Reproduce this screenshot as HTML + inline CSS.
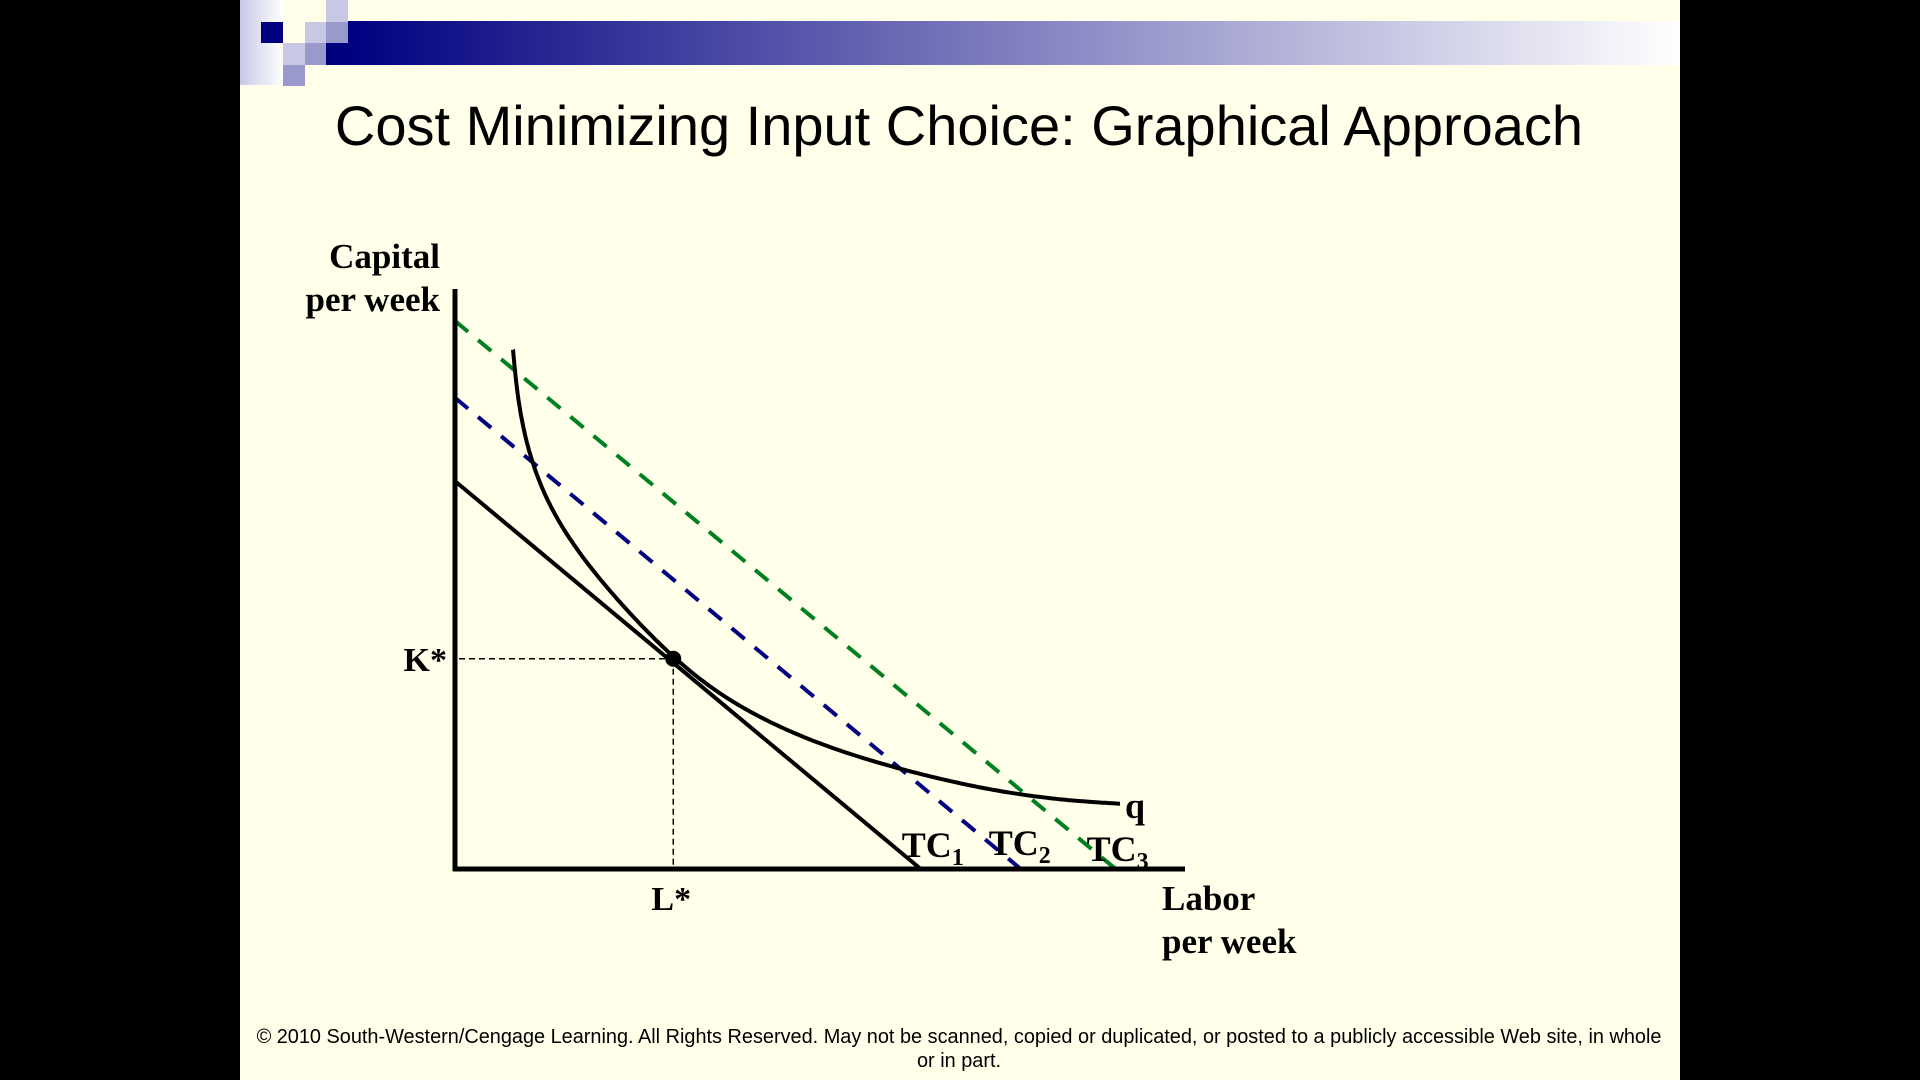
<!DOCTYPE html>
<html><head><meta charset="utf-8"><style>
html,body{margin:0;padding:0;background:#000;}
#wrap{position:relative;width:1920px;height:1080px;background:#000;overflow:hidden;}
#slide{position:absolute;left:240px;top:0;width:1440px;height:1080px;background:#FFFFEA;}
svg text{font-family:"Liberation Serif",serif;font-weight:bold;fill:#000;}
</style></head><body>
<div id="wrap">
<div id="slide"></div>
<svg id="chart" width="1920" height="1080" style="position:absolute;left:0;top:0">
<defs>
<linearGradient id="band" x1="0" x2="1" y1="0" y2="0"><stop offset="0" stop-color="#000080"/><stop offset="1" stop-color="#ffffff"/></linearGradient>
<linearGradient id="lb" x1="0" x2="1" y1="0" y2="0"><stop offset="0" stop-color="#c8c8e6"/><stop offset="1" stop-color="#ffffff"/></linearGradient>
</defs>
<g>
<rect x="240" y="0" width="43" height="85" fill="url(#lb)"/>
<rect x="283" y="0" width="43" height="22" fill="#FFFFEA"/>
<rect x="348" y="21" width="1332" height="44" fill="url(#band)"/>
<rect x="261" y="22" width="22" height="21" fill="#000080"/>
<rect x="326" y="0" width="22" height="22" fill="#c8c8e4"/>
<rect x="305" y="22" width="21" height="21" fill="#c8c8e4"/>
<rect x="326" y="22" width="22" height="21" fill="#9999cc"/>
<rect x="283" y="43" width="22" height="22" fill="#c8c8e4"/>
<rect x="305" y="43" width="21" height="22" fill="#9999cc"/>
<rect x="326" y="43" width="22" height="22" fill="#000080"/>
<rect x="283" y="65" width="22" height="21" fill="#9999cc"/>
</g>
<text x="959" y="145" text-anchor="middle" style="font-family:'Liberation Sans',sans-serif;font-weight:normal;font-size:56px">Cost Minimizing Input Choice: Graphical Approach</text>
<g id="plot"></g>
<text x="440" y="268" text-anchor="end" font-size="35">Capital</text>
<text x="440" y="311" text-anchor="end" font-size="35">per week</text>
<text x="1162" y="910" font-size="35">Labor</text>
<text x="1162" y="953" font-size="35">per week</text>
<text x="959" y="1043" text-anchor="middle" style="font-family:'Liberation Sans',sans-serif;font-weight:normal;font-size:19.9px">© 2010 South-Western/Cengage Learning. All Rights Reserved. May not be scanned, copied or duplicated, or posted to a publicly accessible Web site, in whole</text>
<text x="959" y="1067" text-anchor="middle" style="font-family:'Liberation Sans',sans-serif;font-weight:normal;font-size:19.9px">or in part.</text>
</svg>
</div>
<script>
// data (L = labor, K = capital)
const costLineNames = ["TC1","TC2","TC3"];
const costKIntercepts = [53.5, 65, 75.6];
const costLIntercepts = [63.8, 77.5, 90.5];
const costColors = ["#000000","#000080","#008020"];
const isoL = [7.95, 8.6, 10.0, 12.5, 16.7, 22.6, 29.9, 37.3, 46.3, 55.5, 64.7, 73.7, 82.9, 91.1];
const isoK = [71.6, 64.5, 57.6, 50.7, 43.8, 36.6, 29.0, 23.2, 18.6, 15.3, 12.8, 10.8, 9.5, 9.0];
const optimumL = [29.9];
const optimumK = [29.0];

const X0=455, X1=1185, Y0=869, Y1=289, LMAX=100, KMAX=80;
function sx(l){return X0+(X1-X0)*l/LMAX;}
function sy(k){return Y0-(Y0-Y1)*k/KMAX;}
const NS="http://www.w3.org/2000/svg";
const g=document.getElementById('plot');
function mk(t,a){const e=document.createElementNS(NS,t);for(const k in a)e.setAttribute(k,a[k]);g.appendChild(e);return e;}

costLineNames.forEach((n,i)=>{
  const e=mk('line',{x1:sx(0),y1:sy(costKIntercepts[i]),x2:sx(costLIntercepts[i]),y2:sy(0),stroke:costColors[i],'stroke-width':4});
  if(i>0)e.setAttribute('stroke-dasharray','17 13');
  
  
});
// isoquant: clamped uniform cubic B-spline through data control points (smooth)
let C=isoL.map((l,i)=>[sx(l),sy(isoK[i])]);
C=[C[0],C[0]].concat(C).concat([C[C.length-1],C[C.length-1]]);
let pts=[];
for(let i=0;i<C.length-3;i++){
  const p0=C[i],p1=C[i+1],p2=C[i+2],p3=C[i+3];
  for(let s=0;s<=20;s++){const t=s/20,t2=t*t,t3=t2*t;
    const b0=(1-t)**3/6,b1=(3*t3-6*t2+4)/6,b2=(-3*t3+3*t2+3*t+1)/6,b3=t3/6;
    pts.push([b0*p0[0]+b1*p1[0]+b2*p2[0]+b3*p3[0], b0*p0[1]+b1*p1[1]+b2*p2[1]+b3*p3[1]]);}
}
const iso=mk('polyline',{points:pts.map(p=>p[0].toFixed(1)+','+p[1].toFixed(1)).join(' '),fill:'none',stroke:'#000','stroke-width':4,'stroke-linejoin':'round'});


const ox=sx(optimumL[0]), oy=sy(optimumK[0]);
const gh=mk('line',{x1:sx(0)+4,y1:oy,x2:ox,y2:oy,stroke:'#000','stroke-width':1.5,'stroke-dasharray':'6 4'});


const gv=mk('line',{x1:ox,y1:oy,x2:ox,y2:sy(0),stroke:'#000','stroke-width':1.5,'stroke-dasharray':'6 4'});


const dot=mk('circle',{cx:ox,cy:oy,r:8,fill:'#000'});


const ya=mk('line',{x1:X0,y1:Y1,x2:X0,y2:Y0+2,stroke:'#000','stroke-width':5});


const xa=mk('line',{x1:X0-2,y1:Y0,x2:X1,y2:Y0,stroke:'#000','stroke-width':5});


function lab(txt,x,y,size,name,anchor){const t=mk('text',{x:x,y:y,'font-size':size});if(anchor)t.setAttribute('text-anchor',anchor);t.innerHTML=txt;
  
  return t;}
lab('K*',sx(0)-8,oy+12,34,'k-star-label','end');
lab('L*',ox-2,sy(0)+41,34,'l-star-label','middle');
lab('q',sx(isoL[isoL.length-1])+5,sy(isoK[isoK.length-1])+14,36,'isoquant-label');
const tcOff=[[-19,-12],[-32,-14],[-29,-8]];
costLineNames.forEach((n,i)=>{
  lab('TC<tspan font-size="24" dy="8">'+n.slice(2)+'</tspan>',sx(costLIntercepts[i])+tcOff[i][0],sy(0)+tcOff[i][1],36,'label-'+n.toLowerCase());
});
</script>
</body></html>
